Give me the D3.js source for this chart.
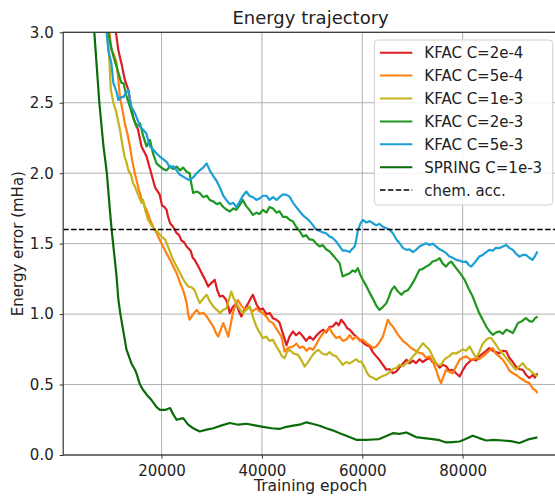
<!DOCTYPE html>
<html>
<head>
<meta charset="utf-8">
<script src="https://cdn.jsdelivr.net/npm/d3@7"></script>
<style>
  body { margin: 0; background: #fff; }
  svg { display: block; font-family: "DejaVu Sans", sans-serif; }
</style>
</head>
<body>
<div id="chart"></div>
<script>
// Each series: [training epoch, energy error in mHa]
const kfac2e4 = [[10300,3.4],[10900,3.0],[11400,2.87],[12000,2.78],[12700,2.66],[13400,2.59],[14000,2.45],[14500,2.38],[15300,2.31],[16000,2.19],[17000,2.12],[17700,2.03],[18700,1.9],[19600,1.85],[20100,1.77],[20600,1.76],[21000,1.74],[21300,1.69],[21700,1.645],[22300,1.62],[22600,1.60],[23000,1.575],[23500,1.56],[24000,1.52],[24500,1.51],[25000,1.48],[25800,1.45],[26200,1.40],[26600,1.385],[27300,1.34],[28000,1.29],[28600,1.25],[29300,1.196],[29900,1.22],[30600,1.243],[31100,1.17],[31600,1.125],[32200,1.13],[32900,1.10],[33300,1.05],[33600,1.007],[34200,1.05],[34900,1.078],[35400,1.02],[35900,0.983],[36500,1.03],[37000,1.06],[37600,1.10],[38200,1.137],[38900,1.07],[39600,1.03],[40200,1.04],[40900,1.00],[41600,1.007],[42200,0.97],[42900,0.96],[43500,0.94],[44200,0.86],[44900,0.78],[45500,0.84],[46200,0.877],[46800,0.85],[47500,0.87],[48200,0.84],[48800,0.81],[49500,0.84],[50200,0.818],[50900,0.85],[51500,0.87],[52200,0.889],[52800,0.87],[53500,0.91],[54100,0.912],[54800,0.94],[55300,0.92],[55800,0.96],[56500,0.93],[57000,0.90],[57500,0.889],[58200,0.86],[58800,0.84],[59500,0.818],[60100,0.80],[60800,0.78],[61500,0.77],[62100,0.73],[62800,0.70],[63400,0.676],[64100,0.64],[64800,0.605],[65400,0.61],[66100,0.58],[66800,0.593],[67400,0.62],[68100,0.65],[68800,0.676],[69400,0.65],[70100,0.67],[70700,0.652],[71400,0.68],[72000,0.66],[72700,0.676],[73400,0.69],[74000,0.66],[74700,0.652],[75400,0.62],[76000,0.64],[76700,0.63],[77300,0.60],[78000,0.605],[78700,0.58],[79400,0.557],[80000,0.60],[80700,0.64],[81400,0.664],[82000,0.68],[82700,0.67],[83300,0.70],[84000,0.72],[84700,0.74],[85300,0.759],[86000,0.74],[86600,0.73],[87300,0.723],[88000,0.74],[88700,0.735],[89300,0.69],[90000,0.66],[90600,0.628],[91300,0.61],[92000,0.605],[92600,0.57],[93300,0.546],[94000,0.57],[94400,0.55],[94900,0.58]];
const kfac5e4 = [[8900,3.4],[9300,3.1],[10050,2.87],[10400,2.85],[10700,2.82],[11050,2.78],[11400,2.66],[11700,2.54],[12200,2.45],[12700,2.35],[13200,2.28],[13700,2.19],[14100,2.1],[14550,2.02],[15000,1.95],[15500,1.88],[16000,1.82],[16300,1.80],[16700,1.76],[17000,1.74],[17400,1.70],[17700,1.67],[18300,1.62],[19000,1.575],[19600,1.53],[20300,1.48],[21000,1.43],[21700,1.385],[22300,1.34],[23000,1.29],[23700,1.22],[24300,1.17],[24700,1.12],[25000,1.078],[25300,1.00],[25600,0.96],[26300,1.00],[27000,1.03],[27600,1.00],[28300,1.01],[29000,0.983],[29600,0.95],[30300,0.912],[30800,0.87],[31300,0.84],[31800,0.89],[32300,0.936],[32800,0.89],[33300,0.84],[33800,0.93],[34200,1.007],[34700,1.06],[35200,1.10],[35900,1.06],[36600,1.03],[37300,1.05],[38100,1.02],[38900,1.04],[39500,1.02],[40200,1.007],[40900,0.98],[41500,0.95],[42200,0.936],[43000,0.89],[43900,0.84],[44500,0.735],[45300,0.76],[46200,0.77],[46900,0.79],[47500,0.76],[48200,0.77],[48900,0.74],[49500,0.76],[50200,0.747],[50900,0.79],[51500,0.83],[52200,0.865],[52800,0.88],[53500,0.90],[54100,0.86],[54800,0.83],[55500,0.84],[56100,0.81],[56800,0.818],[57500,0.85],[58100,0.82],[58800,0.84],[59500,0.81],[60100,0.82],[60800,0.794],[61500,0.78],[62100,0.76],[62800,0.77],[63400,0.80],[64100,0.84],[64600,0.90],[65100,0.96],[65600,0.93],[66100,0.912],[66800,0.87],[67400,0.84],[68100,0.81],[68800,0.79],[69400,0.77],[70100,0.75],[70700,0.74],[71400,0.723],[72000,0.72],[72700,0.69],[73400,0.70],[74100,0.66],[74700,0.605],[75200,0.55],[75700,0.51],[76200,0.56],[76700,0.605],[77300,0.59],[78000,0.58],[78700,0.63],[79400,0.676],[80000,0.69],[80700,0.70],[81400,0.68],[82000,0.676],[82700,0.69],[83300,0.68],[84000,0.70],[84700,0.72],[85300,0.74],[86000,0.759],[86600,0.72],[87300,0.70],[88000,0.676],[88700,0.64],[89300,0.60],[90000,0.58],[90600,0.57],[91300,0.55],[92000,0.534],[92600,0.52],[93300,0.51],[94000,0.47],[94500,0.46],[94900,0.44]];
const kfac1e3 = [[8800,3.4],[9300,3.0],[9900,2.59],[10400,2.5],[11000,2.43],[11400,2.36],[11700,2.31],[12200,2.2],[12600,2.12],[13000,2.08],[13400,2.02],[14000,1.98],[14300,1.93],[14700,1.905],[15300,1.85],[16000,1.79],[16300,1.81],[16800,1.73],[17300,1.67],[18000,1.63],[18700,1.60],[19300,1.58],[20000,1.55],[20700,1.53],[21500,1.46],[22300,1.385],[23100,1.33],[24000,1.27],[24600,1.23],[25300,1.196],[26000,1.19],[26600,1.17],[27100,1.12],[27600,1.078],[28300,1.11],[29000,1.137],[29600,1.09],[30300,1.054],[31000,1.03],[31600,1.007],[32300,1.03],[32900,1.04],[33400,1.10],[33900,1.16],[34400,1.11],[34900,1.078],[35500,1.04],[36200,1.007],[36900,1.03],[37600,1.054],[38300,0.97],[38900,0.912],[39500,0.87],[40200,0.83],[40900,0.84],[41500,0.81],[42200,0.818],[42900,0.77],[43500,0.735],[44000,0.70],[44500,0.688],[45000,0.73],[45500,0.747],[46300,0.72],[47200,0.711],[47900,0.67],[48500,0.628],[49000,0.65],[49500,0.676],[50300,0.72],[51200,0.747],[52000,0.72],[52800,0.711],[53500,0.73],[54100,0.71],[54800,0.70],[55500,0.67],[56100,0.64],[56800,0.66],[57500,0.65],[58100,0.664],[58800,0.68],[59400,0.66],[59800,0.664],[60500,0.62],[61000,0.58],[61500,0.557],[62100,0.55],[62800,0.534],[63500,0.55],[64100,0.56],[64800,0.57],[65500,0.59],[66100,0.61],[66800,0.617],[67400,0.64],[68100,0.63],[68800,0.652],[69400,0.67],[70100,0.70],[70700,0.723],[71400,0.76],[72100,0.794],[72700,0.77],[73400,0.747],[74000,0.70],[74700,0.652],[75200,0.64],[75700,0.64],[76200,0.67],[76700,0.688],[77300,0.70],[78000,0.723],[78700,0.72],[79400,0.735],[80000,0.75],[80700,0.74],[81400,0.77],[82000,0.73],[82700,0.688],[83300,0.73],[84000,0.79],[84700,0.818],[85200,0.83],[85700,0.83],[86500,0.79],[87300,0.747],[88000,0.72],[88700,0.688],[89300,0.66],[90000,0.63],[90600,0.605],[91300,0.63],[92000,0.652],[92600,0.62],[93300,0.605],[94000,0.58],[94500,0.57],[94900,0.557]];
const kfac2e3 = [[8800,3.4],[9400,3.0],[9900,2.9],[10400,2.83],[11000,2.76],[11500,2.7],[12000,2.64],[12400,2.64],[13000,2.55],[13700,2.47],[14300,2.40],[15000,2.33],[15700,2.355],[16300,2.27],[17000,2.19],[17700,2.236],[18300,2.14],[19000,2.07],[19600,2.05],[20300,2.03],[21000,2.02],[21700,2.05],[22300,2.03],[23000,2.047],[23700,2.02],[24300,2.04],[25000,2.01],[25600,2.0],[25900,1.93],[26300,1.86],[27000,1.87],[27600,1.86],[28300,1.83],[29000,1.84],[29600,1.81],[30300,1.80],[31000,1.78],[31600,1.79],[32300,1.76],[33000,1.74],[33600,1.728],[34300,1.75],[34900,1.74],[35500,1.77],[36200,1.81],[36800,1.77],[37500,1.74],[38200,1.704],[38900,1.72],[39500,1.71],[40200,1.74],[40900,1.72],[41500,1.76],[42200,1.75],[42900,1.72],[43500,1.73],[44200,1.69],[44900,1.69],[45500,1.67],[46200,1.657],[46800,1.62],[47500,1.59],[48200,1.55],[48800,1.56],[49500,1.53],[50200,1.527],[50800,1.50],[51500,1.48],[52100,1.49],[52800,1.46],[53500,1.444],[54100,1.42],[54800,1.39],[55500,1.36],[55800,1.31],[56100,1.267],[56800,1.28],[57500,1.29],[58100,1.31],[58600,1.30],[59100,1.326],[59600,1.28],[60100,1.243],[60800,1.20],[61500,1.149],[62100,1.11],[62800,1.06],[63400,1.03],[64100,1.05],[64800,1.078],[65300,1.12],[65800,1.17],[66400,1.196],[67100,1.16],[67800,1.137],[68400,1.16],[69100,1.17],[69700,1.20],[70400,1.243],[70900,1.28],[71400,1.314],[72000,1.32],[72700,1.337],[73400,1.35],[74000,1.373],[74700,1.38],[75400,1.397],[76000,1.36],[76700,1.337],[77200,1.36],[77700,1.373],[78200,1.35],[78700,1.326],[79500,1.29],[80400,1.243],[81200,1.18],[82000,1.125],[82700,1.06],[83300,1.007],[84000,0.96],[84700,0.912],[85300,0.88],[86000,0.853],[86700,0.87],[87300,0.877],[88000,0.86],[88700,0.889],[89300,0.88],[90000,0.865],[90500,0.90],[91000,0.936],[91800,0.95],[92600,0.972],[93300,0.95],[93900,0.947],[94400,0.97],[94900,0.983]];
const kfac5e3 = [[8600,3.4],[9050,3.0],[9400,2.87],[10000,2.78],[10400,2.64],[10700,2.61],[11000,2.58],[11400,2.52],[12000,2.54],[12400,2.54],[12900,2.57],[13400,2.59],[13700,2.52],[14000,2.47],[14500,2.44],[15000,2.40],[15700,2.33],[16300,2.31],[17000,2.28],[17400,2.22],[17700,2.19],[18300,2.17],[19000,2.14],[19600,2.12],[20300,2.10],[21000,2.08],[21700,2.04],[22300,2.05],[23000,2.02],[23600,1.99],[24300,1.976],[25000,1.96],[25600,1.95],[26300,1.97],[27000,2.0],[27600,2.02],[28300,2.04],[29000,2.07],[29600,2.02],[30300,1.98],[30900,1.95],[31600,1.90],[32300,1.84],[32900,1.81],[33600,1.78],[34300,1.79],[34900,1.76],[35600,1.80],[36200,1.84],[36900,1.87],[37500,1.84],[38200,1.83],[38900,1.81],[39500,1.82],[40200,1.84],[40900,1.84],[41500,1.81],[42200,1.83],[42900,1.81],[43500,1.83],[44200,1.85],[44900,1.846],[45500,1.834],[46200,1.79],[46900,1.757],[47500,1.73],[48200,1.70],[48900,1.68],[49500,1.66],[50200,1.63],[50800,1.60],[51500,1.59],[52100,1.58],[52800,1.574],[53500,1.55],[54100,1.54],[54800,1.515],[55500,1.48],[56100,1.45],[56800,1.45],[57500,1.44],[57800,1.456],[58500,1.48],[58800,1.53],[59100,1.59],[59600,1.64],[60100,1.669],[60800,1.65],[61500,1.66],[62100,1.645],[62800,1.63],[63400,1.64],[64100,1.62],[64800,1.61],[65400,1.60],[66100,1.574],[66800,1.53],[67500,1.50],[68100,1.47],[68800,1.456],[69400,1.46],[70100,1.44],[70700,1.456],[71400,1.48],[72000,1.49],[72700,1.503],[73400,1.49],[74000,1.50],[74700,1.48],[75400,1.46],[76000,1.45],[76700,1.433],[77300,1.41],[78000,1.40],[78700,1.385],[79400,1.38],[80000,1.37],[80700,1.373],[81200,1.35],[81700,1.337],[82500,1.37],[83300,1.408],[84000,1.42],[84700,1.44],[85300,1.456],[86000,1.45],[86600,1.47],[87300,1.468],[88000,1.48],[88700,1.491],[89300,1.47],[90000,1.456],[90600,1.43],[91300,1.408],[92000,1.42],[92600,1.42],[93300,1.40],[93900,1.385],[94400,1.41],[94900,1.444]];
const spring1e3 = [[5000,3.7],[6600,3.0],[7600,2.5],[8400,2.2],[9100,2.0],[9700,1.74],[10050,1.6],[11000,1.28],[11400,1.1],[11800,1.0],[13000,0.75],[14000,0.65],[14700,0.605],[15000,0.58],[15700,0.5],[16300,0.463],[17000,0.43],[18000,0.39],[19000,0.34],[19700,0.32],[20700,0.32],[21700,0.333],[22300,0.29],[23000,0.25],[24300,0.262],[25300,0.215],[26300,0.19],[27600,0.167],[29000,0.18],[30300,0.19],[32000,0.21],[33600,0.227],[35300,0.215],[36900,0.222],[38600,0.21],[40200,0.20],[41900,0.19],[43500,0.185],[44900,0.20],[46200,0.208],[47500,0.215],[48900,0.232],[50200,0.22],[51500,0.208],[52800,0.19],[54100,0.175],[55500,0.155],[56800,0.137],[58800,0.108],[60800,0.108],[62100,0.11],[63400,0.113],[64800,0.135],[66100,0.155],[67400,0.15],[68800,0.16],[70700,0.127],[72300,0.12],[74000,0.113],[75400,0.105],[76700,0.089],[78000,0.092],[79400,0.096],[80700,0.115],[82000,0.137],[83300,0.12],[84700,0.103],[86300,0.108],[88000,0.103],[89600,0.098],[91300,0.085],[93300,0.113],[94900,0.125]];

const seriesData = [kfac2e4, kfac5e4, kfac1e3, kfac2e3, kfac5e3, spring1e3];
const seriesLabels = ["KFAC C=2e-4", "KFAC C=5e-4", "KFAC C=1e-3", "KFAC C=2e-3", "KFAC C=5e-3", "SPRING C=1e-3"];
const seriesColors = ["#dc1e23", "#ff8010", "#c2b41c", "#1f961f", "#1c9fd4", "#0b6b0b"];
const chemAcc = 1.6;
const xTicks = [20000, 40000, 60000, 80000];
const yTicks = [0, 0.5, 1.0, 1.5, 2.0, 2.5, 3.0];

const W = 555, H = 496;
const plot = { left: 63.2, right: 558, top: 32.3, bottom: 455 };

const x = d3.scaleLinear().domain([400, 99000]).range([plot.left, plot.right]);
const y = d3.scaleLinear().domain([0, 3]).range([plot.bottom, plot.top]);

const svg = d3.select("#chart").append("svg")
  .attr("width", W).attr("height", H);

svg.append("defs").append("clipPath").attr("id", "plotClip")
  .append("rect")
  .attr("x", plot.left).attr("y", plot.top)
  .attr("width", plot.right - plot.left).attr("height", plot.bottom - plot.top);

// Grid
const grid = svg.append("g").attr("stroke", "#b0b0b0").attr("stroke-width", 1);
grid.selectAll("line.gx").data(xTicks).join("line")
  .attr("x1", d => x(d)).attr("x2", d => x(d))
  .attr("y1", plot.top).attr("y2", plot.bottom);
grid.selectAll("line.gy").data(yTicks).join("line")
  .attr("x1", plot.left).attr("x2", plot.right)
  .attr("y1", d => y(d)).attr("y2", d => y(d));

// Series
const line = d3.line().x(d => x(d[0])).y(d => y(d[1]));
const lines = svg.append("g").attr("clip-path", "url(#plotClip)");
seriesData.forEach((s, i) => {
  lines.append("path")
    .datum(s)
    .attr("fill", "none")
    .attr("stroke", seriesColors[i])
    .attr("stroke-width", 2.2)
    .attr("stroke-linejoin", "round")
    .attr("d", line);
});

// Chemical accuracy threshold
lines.append("line")
  .attr("x1", plot.left).attr("x2", plot.right)
  .attr("y1", y(chemAcc)).attr("y2", y(chemAcc))
  .attr("stroke", "#000").attr("stroke-width", 1.5)
  .attr("stroke-dasharray", "5.5,2.4");

// Axes
const xAxis = d3.axisBottom(x).tickValues(xTicks).tickFormat(d3.format("d"))
  .tickSize(3.5).tickSizeOuter(0).tickPadding(6.5);
const yAxis = d3.axisLeft(y).tickValues(yTicks).tickFormat(d3.format(".1f"))
  .tickSize(3.5).tickSizeOuter(0).tickPadding(6);

const gx = svg.append("g").attr("transform", `translate(0,${plot.bottom})`).call(xAxis);
const gy = svg.append("g").attr("transform", `translate(${plot.left},0)`).call(yAxis);
[gx, gy].forEach(g => {
  g.selectAll("text").attr("font-size", 15).attr("fill", "#222")
    .attr("font-family", "DejaVu Sans, sans-serif");
  g.selectAll("line").attr("stroke", "#333");
  g.select(".domain").remove();
});

// Spines
const spines = svg.append("g").attr("stroke", "#333").attr("stroke-width", 1.2).attr("fill", "none");
spines.append("rect")
  .attr("x", plot.left).attr("y", plot.top)
  .attr("width", plot.right - plot.left).attr("height", plot.bottom - plot.top);

// Titles
svg.append("text")
  .attr("x", (plot.left + plot.right) / 2).attr("y", 24)
  .attr("text-anchor", "middle").attr("font-size", 18).attr("fill", "#222")
  .text("Energy trajectory");
svg.append("text")
  .attr("x", (plot.left + plot.right) / 2).attr("y", 491)
  .attr("text-anchor", "middle").attr("font-size", 15.5).attr("fill", "#222")
  .text("Training epoch");
svg.append("text")
  .attr("transform", `translate(23,${(plot.top + plot.bottom) / 2}) rotate(-90)`)
  .attr("text-anchor", "middle").attr("font-size", 15).attr("fill", "#222")
  .text("Energy error (mHa)");

// Legend
const legend = svg.append("g").attr("transform", "translate(374.3,40)");
legend.append("rect")
  .attr("width", 178.4).attr("height", 165).attr("rx", 3.5)
  .attr("fill", "#fff").attr("fill-opacity", 0.85)
  .attr("stroke", "#cfcfcf").attr("stroke-width", 1);

const legendItems = seriesLabels.map((label, i) => ({ label, color: seriesColors[i], dash: null }))
  .concat([{ label: "chem. acc.", color: "#000", dash: "5.5,2.4" }]);
const rowStep = 22.9;
const rows = legend.selectAll("g.row").data(legendItems).join("g")
  .attr("transform", (d, i) => `translate(0,${12.7 + i * rowStep})`);
rows.append("line")
  .attr("x1", 5.7).attr("x2", 38)
  .attr("stroke", d => d.color)
  .attr("stroke-width", d => d.dash ? 1.5 : 2)
  .attr("stroke-dasharray", d => d.dash);
rows.append("text")
  .attr("x", 50).attr("dy", "0.36em")
  .attr("font-size", 15).attr("fill", "#222")
  .text(d => d.label);
</script>
</body>
</html>
